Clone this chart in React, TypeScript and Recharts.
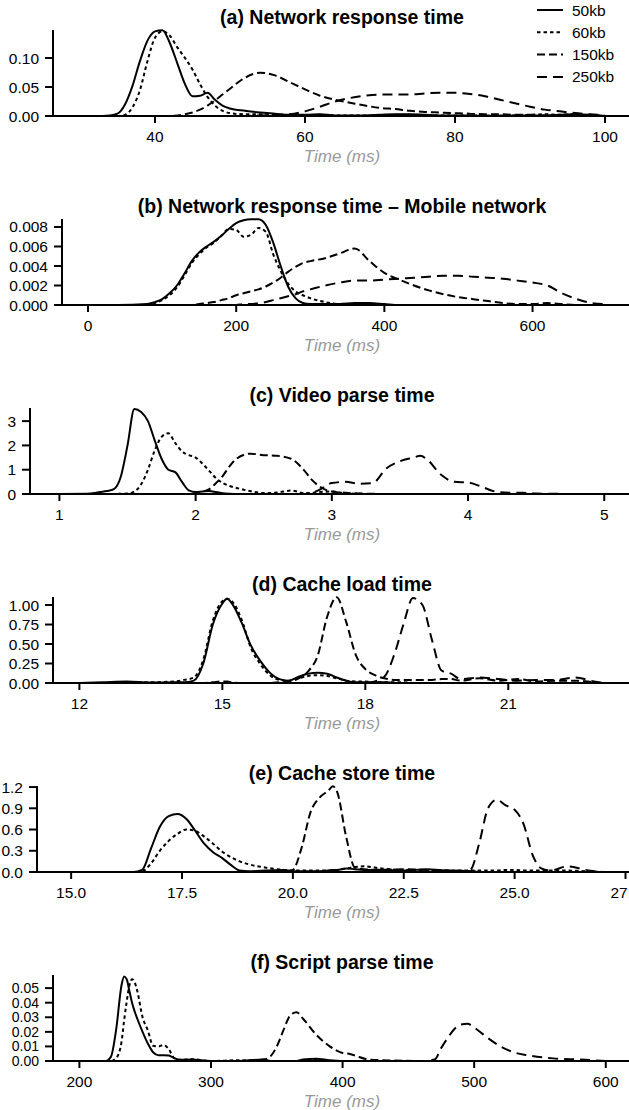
// App.tsx
// Six stacked density plots (a)–(f), one shared legend in the top right.
// Recharts LineCharts, black-on-white, R-style axes.

import { LineChart, Line, XAxis, YAxis, Legend, Label } from "recharts";

// ── Series ────────────────────────────────────────────────────────────────

const SERIES_KEYS = ["s50", "s60", "s150", "s250"];
const SERIES_NAMES = ["50kb", "60kb", "150kb", "250kb"];
const SERIES_DASH = [undefined, "3.5 3", "8 4", "10 6"];

// ── (a) Network response time ────────────────────────────────────────────

const aX = [28, 30, 32, 34, 35, 36, 37, 38, 39, 40, 41, 42, 43, 44, 45, 46, 47, 48, 49, 50,
  52, 54, 56, 58, 60, 62, 64, 66, 68, 70, 72, 74, 76, 78, 80, 82, 84, 86, 88, 90, 92, 94, 96, 98, 100];
const a50 = [0, 0, 0, 0.001, 0.004, 0.02, 0.052, 0.095, 0.13, 0.146, 0.148, 0.125, 0.09, 0.055, 0.034, 0.035, 0.04, 0.028, 0.018, 0.013,
  0.009, 0.006, 0.004, 0.002, 0.002, 0.003, 0.001, 0.001, 0.001, 0.002, 0.003, 0.003, 0.002, 0.001, 0.001, 0.001, 0, 0, 0.001, 0.001, 0.001, 0.002, 0.003, 0.002, 0];
const a60 = [0, 0, 0, 0, 0, 0.002, 0.015, 0.045, 0.095, 0.135, 0.146, 0.138, 0.118, 0.1, 0.08, 0.055, 0.033, 0.018, 0.009, 0.005,
  0.003, 0.003, 0.002, 0.001, 0.001, 0.002, 0.001, 0.001, 0.001, 0.001, 0.002, 0.002, 0.001, 0.001, 0.001, 0.001, 0.001, 0.001, 0.001, 0.002, 0.003, 0.002, 0.003, 0.001, 0];
const a150 = [0, 0, 0, 0, 0, 0, 0, 0, 0, 0, 0, 0, 0.001, 0.003, 0.006, 0.011, 0.018, 0.027, 0.037, 0.047,
  0.066, 0.0745, 0.07, 0.058, 0.046, 0.035, 0.028, 0.023, 0.018, 0.014, 0.012, 0.009, 0.007, 0.006, 0.005, 0.004, 0.003, 0.003, 0.002, 0.002, 0.001, 0.001, 0.001, 0, 0];
const a250 = [0, 0, 0, 0, 0, 0, 0, 0, 0, 0, 0, 0, 0, 0, 0, 0, 0, 0, 0, 0,
  0, 0.001, 0.002, 0.003, 0.008, 0.016, 0.025, 0.031, 0.035, 0.037, 0.037, 0.037, 0.039, 0.04, 0.04, 0.038, 0.034, 0.028, 0.022, 0.016, 0.011, 0.008, 0.005, 0.003, 0.001];
const aXTicks = [40, 60, 80, 100];
const aYTicks = [0, 0.05, 0.1];

// ── (b) Network response time – Mobile network ───────────────────────────

const bX = [0, 40, 80, 90, 100, 110, 120, 130, 140, 150, 160, 170, 180, 190, 200, 210, 220, 230, 240, 250, 260, 270, 280, 290, 300,
  320, 340, 360, 380, 400, 420, 440, 460, 480, 500, 520, 540, 560, 580, 600, 620, 640, 660, 680, 700];
const b50 = [0, 0, 0.0001, 0.0003, 0.0006, 0.0012, 0.002, 0.0032, 0.0045, 0.0054, 0.006, 0.0065, 0.0071, 0.0078, 0.0084, 0.0087, 0.0088, 0.0088, 0.0082, 0.0064, 0.004, 0.0019, 0.0007, 0.0002, 0.0001,
  0.0001, 0.0001, 0.0002, 0.0002, 0.0001, 0, 0, 0, 0, 0, 0, 0, 0, 0, 0, 0, 0, 0, 0, 0];
const b60 = [0, 0, 0, 0.0002, 0.0005, 0.001, 0.0018, 0.003, 0.0043, 0.0052, 0.0059, 0.0064, 0.0071, 0.0078, 0.0077, 0.007, 0.0072, 0.0079, 0.0075, 0.0052, 0.0035, 0.0022, 0.0014, 0.001, 0.0007,
  0.0003, 0.0001, 0.0001, 0.0001, 0, 0, 0, 0, 0, 0, 0, 0, 0, 0, 0, 0, 0, 0, 0, 0];
const b150 = [0, 0, 0, 0, 0, 0, 0, 0, 0, 0.0001, 0.0002, 0.0003, 0.0005, 0.0007, 0.001, 0.0012, 0.0014, 0.0016, 0.0019, 0.0023, 0.0028, 0.0034, 0.0039, 0.0043, 0.0045,
  0.0048, 0.0053, 0.0058, 0.0045, 0.0033, 0.0026, 0.002, 0.0015, 0.0011, 0.0008, 0.0006, 0.0004, 0.0002, 0.0001, 0.0001, 0.0002, 0.0001, 0, 0, 0];
const b250 = [0, 0, 0, 0, 0, 0, 0, 0, 0, 0, 0, 0, 0, 0, 0, 0.0001, 0.0001, 0.0002, 0.0003, 0.0005, 0.0007, 0.0009, 0.0011, 0.0014, 0.0016,
  0.002, 0.0023, 0.0025, 0.0025, 0.0026, 0.0027, 0.0028, 0.0029, 0.003, 0.003, 0.0029, 0.0028, 0.0027, 0.0025, 0.0023, 0.002, 0.0012, 0.0006, 0.0002, 0.0001];
const bXTicks = [0, 200, 400, 600];
const bYTicks = [0, 0.002, 0.004, 0.006, 0.008];

// ── (c) Video parse time ─────────────────────────────────────────────────

const cX = [1.0, 1.2, 1.3, 1.35, 1.4, 1.45, 1.5, 1.55, 1.6, 1.65, 1.7, 1.75, 1.8, 1.85, 1.9, 1.95, 2.0, 2.05, 2.1, 2.15, 2.2, 2.25, 2.3,
  2.4, 2.5, 2.6, 2.7, 2.8, 2.85, 2.9, 3.0, 3.1, 3.2, 3.3, 3.4, 3.5, 3.6, 3.65, 3.7, 3.8, 3.9, 4.0, 4.1, 4.2, 4.3, 4.4, 4.5, 4.6, 4.8, 5.0];
const c50 = [0, 0.01, 0.08, 0.12, 0.2, 0.7, 2.0, 3.5, 3.38, 3.0, 2.2, 1.45, 1.0, 0.9, 0.5, 0.15, 0.08, 0.1, 0.12, 0.08, 0.03, 0.01, 0,
  0, 0, 0, 0, 0, 0, 0, 0, 0, 0, 0, 0, 0, 0, 0, 0, 0, 0, 0, 0, 0, 0, 0, 0, 0, 0, 0];
const c60 = [0, 0, 0, 0, 0, 0.01, 0.02, 0.1, 0.4, 1.0, 1.8, 2.35, 2.5, 2.1, 1.75, 1.6, 1.5, 1.25, 0.95, 0.65, 0.45, 0.33, 0.25,
  0.12, 0.04, 0.06, 0.14, 0.04, 0.05, 0.08, 0.1, 0.03, 0.01, 0, 0, 0, 0, 0, 0, 0, 0, 0, 0, 0, 0, 0, 0, 0, 0, 0];
const c150 = [0, 0, 0, 0, 0, 0, 0, 0, 0, 0, 0, 0, 0, 0, 0, 0, 0.03, 0.1, 0.2, 0.45, 0.75, 1.15, 1.45,
  1.66, 1.6, 1.57, 1.45, 0.95, 0.6, 0.35, 0.1, 0.05, 0.02, 0.01, 0, 0, 0, 0, 0, 0, 0, 0, 0, 0, 0, 0, 0, 0, 0, 0];
const c250 = [0, 0, 0, 0, 0, 0, 0, 0, 0, 0, 0, 0, 0, 0, 0, 0, 0, 0, 0, 0, 0, 0, 0,
  0, 0, 0, 0, 0, 0.05, 0.15, 0.45, 0.5, 0.42, 0.45, 1.05, 1.35, 1.5, 1.57, 1.42, 0.8, 0.5, 0.47, 0.3, 0.1, 0.05, 0.05, 0.02, 0.01, 0, 0];
const cXTicks = [1, 2, 3, 4, 5];
const cYTicks = [0, 1, 2, 3];

// ── (d) Cache load time ──────────────────────────────────────────────────

const dX = [12, 12.5, 13, 13.5, 14, 14.2, 14.4, 14.6, 14.8, 15.0, 15.1, 15.2, 15.4, 15.6, 15.8, 16.0, 16.2, 16.4, 16.6, 16.8, 17.0, 17.2,
  17.4, 17.6, 17.8, 18.0, 18.2, 18.4, 18.6, 18.8, 19.0, 19.2, 19.4, 19.6, 19.8, 20.0, 20.4, 20.8, 21.2, 21.6, 22.0, 22.4, 22.8, 23.0];
const d50 = [0, 0.01, 0.02, 0.005, 0.01, 0.01, 0.03, 0.25, 0.75, 1.02, 1.08, 1.02, 0.78, 0.48, 0.28, 0.13, 0.05, 0.03, 0.08, 0.12, 0.13, 0.12,
  0.07, 0.03, 0.01, 0.01, 0.01, 0.01, 0, 0, 0, 0, 0, 0, 0, 0, 0, 0, 0, 0, 0, 0, 0, 0];
const d60 = [0, 0, 0.01, 0.01, 0.02, 0.04, 0.07, 0.3, 0.8, 1.05, 1.08, 1.05, 0.82, 0.45, 0.24, 0.1, 0.04, 0.03, 0.06, 0.09, 0.1, 0.09,
  0.06, 0.03, 0.02, 0.02, 0.01, 0.01, 0.01, 0.01, 0, 0, 0, 0, 0, 0, 0, 0, 0, 0, 0, 0, 0, 0];
const d150 = [0, 0, 0, 0, 0, 0, 0, 0, 0.01, 0.02, 0.02, 0.01, 0, 0, 0, 0, 0.01, 0.02, 0.06, 0.15, 0.35, 0.85,
  1.1, 0.78, 0.36, 0.18, 0.1, 0.06, 0.04, 0.04, 0.04, 0.04, 0.04, 0.05, 0.05, 0.03, 0.06, 0.03, 0.05, 0.02, 0.03, 0.03, 0.01, 0];
const d250 = [0, 0, 0, 0, 0, 0, 0, 0, 0, 0, 0, 0, 0, 0, 0, 0, 0, 0, 0, 0, 0, 0,
  0, 0, 0, 0, 0.02, 0.08, 0.35, 0.75, 1.09, 1.0, 0.55, 0.16, 0.12, 0.05, 0.07, 0.05, 0.03, 0.04, 0.04, 0.07, 0.02, 0];
const dXTicks = [12, 15, 18, 21];
const dYTicks = [0, 0.25, 0.5, 0.75, 1.0];

// ── (e) Cache store time ─────────────────────────────────────────────────

const eX = [15, 16, 16.4, 16.6, 16.8, 17.0, 17.2, 17.4, 17.6, 17.8, 18.0, 18.2, 18.4, 18.6, 18.8, 19.0, 19.4, 19.8, 20.0, 20.2, 20.4, 20.6,
  20.8, 20.9, 21.0, 21.2, 21.4, 21.6, 22.0, 22.5, 23.0, 23.5, 24.0, 24.2, 24.4, 24.6, 24.8, 25.0, 25.2, 25.4, 25.6, 25.8, 26.2, 26.6, 27.0];
const e50 = [0, 0, 0, 0.03, 0.33, 0.64, 0.79, 0.82, 0.75, 0.58, 0.4, 0.28, 0.2, 0.1, 0.02, 0.01, 0.02, 0.03, 0.01, 0.01, 0.01, 0.01,
  0.02, 0.03, 0.03, 0.05, 0.04, 0.03, 0.03, 0.02, 0.04, 0.02, 0.01, 0, 0, 0, 0, 0, 0, 0, 0, 0, 0, 0, 0];
const e60 = [0, 0, 0, 0.01, 0.12, 0.3, 0.44, 0.54, 0.6, 0.58, 0.5, 0.4, 0.29, 0.21, 0.15, 0.11, 0.06, 0.03, 0.02, 0.02, 0.02, 0.02,
  0.02, 0.02, 0.03, 0.05, 0.07, 0.08, 0.05, 0.03, 0.03, 0.02, 0.02, 0.02, 0.02, 0.02, 0.03, 0.03, 0.02, 0.02, 0.02, 0.02, 0.02, 0.01, 0];
const e150 = [0, 0, 0, 0, 0, 0, 0, 0, 0, 0, 0, 0, 0, 0, 0, 0, 0, 0, 0.03, 0.35, 0.85, 1.05,
  1.15, 1.21, 1.13, 0.5, 0.06, 0.04, 0.03, 0.04, 0.03, 0.02, 0.01, 0, 0, 0, 0, 0, 0, 0, 0, 0, 0, 0, 0];
const e250 = [0, 0, 0, 0, 0, 0, 0, 0, 0, 0, 0, 0, 0, 0, 0, 0, 0, 0, 0, 0, 0, 0,
  0, 0, 0, 0, 0, 0, 0, 0, 0, 0, 0.03, 0.4, 0.9, 1.02, 0.94, 0.88, 0.68, 0.25, 0.05, 0.02, 0.08, 0.03, 0];
const eXTicks = [15, 17.5, 20, 22.5, 25, 27.5];
const eYTicks = [0, 0.3, 0.6, 0.9, 1.2];

// ── (f) Script parse time ────────────────────────────────────────────────

const fX = [200, 215, 220, 224, 228, 232, 234, 236, 238, 240, 242, 244, 248, 252, 256, 260, 264, 268, 272, 276, 285, 300, 320, 340,
  345, 350, 355, 360, 365, 370, 380, 390, 400, 405, 410, 420, 440, 460, 470, 475, 480, 485, 490, 495, 500, 510, 520, 530, 540, 560, 580, 600];
const f50 = [0, 0, 0, 0.003, 0.022, 0.052, 0.058, 0.056, 0.048, 0.04, 0.034, 0.029, 0.02, 0.012, 0.006, 0.004, 0.004, 0.0037, 0.002, 0.0008, 0.001, 0, 0, 0.001,
  0, 0, 0, 0, 0, 0.001, 0.0015, 0.0005, 0, 0, 0, 0, 0, 0, 0, 0, 0, 0, 0, 0, 0, 0, 0, 0, 0, 0, 0, 0];
const f60 = [0, 0, 0, 0, 0.002, 0.013, 0.028, 0.041, 0.052, 0.056, 0.054, 0.048, 0.03, 0.021, 0.0105, 0.01, 0.011, 0.008, 0.002, 0.0008, 0.0012, 0, 0.0005, 0,
  0, 0, 0, 0, 0, 0, 0.001, 0, 0, 0, 0, 0, 0, 0, 0, 0, 0, 0, 0, 0, 0, 0, 0, 0, 0, 0, 0, 0];
const f150 = [0, 0, 0, 0, 0, 0, 0, 0, 0, 0, 0, 0, 0, 0, 0, 0, 0, 0, 0, 0, 0, 0, 0, 0.001,
  0.003, 0.01, 0.021, 0.031, 0.0335, 0.029, 0.018, 0.0102, 0.0055, 0.005, 0.0035, 0.001, 0.0003, 0, 0, 0, 0, 0, 0, 0, 0, 0, 0, 0, 0, 0, 0, 0];
const f250 = [0, 0, 0, 0, 0, 0, 0, 0, 0, 0, 0, 0, 0, 0, 0, 0, 0, 0, 0, 0, 0, 0, 0, 0,
  0, 0, 0, 0, 0, 0, 0, 0, 0, 0, 0, 0, 0, 0, 0.001, 0.009, 0.016, 0.022, 0.025, 0.0255, 0.023, 0.016, 0.01, 0.006, 0.004, 0.0018, 0.001, 0];
const fXTicks = [200, 300, 400, 500, 600];
const fYTicks = [0, 0.01, 0.02, 0.03, 0.04, 0.05];

// ── Layout ──────────────────────────────────────────────────────────────────

const FONT = '"Liberation Sans", Arial, Helvetica, sans-serif';
const CHART_W = 700;
const PANEL_H = 189;
const TITLE_CX = 342;
const AXIS_STROKE = { stroke: "#000", strokeWidth: 2 };
const TICK_STYLE = { fontSize: 15.5, fill: "#000", fontFamily: FONT };

interface PanelCfg {
  title: string;
  xs: number[];
  values: number[][];
  plotLeft: number;
  xDomain: [number, number];
  xTicks: number[];
  xDec: number;
  yTop: number;
  yTicks: number[];
  yDec: number;
  yFont?: number;
}

const PANELS: PanelCfg[] = [
  { title: "(a) Network response time", xs: aX, values: [a50, a60, a150, a250], plotLeft: 53,
    xDomain: [26.4, 112.67], xTicks: aXTicks, xDec: 0, yTop: 0.1483, yTicks: aYTicks, yDec: 2 },
  { title: "(b) Network response time \u2013 Mobile network", xs: bX, values: [b50, b60, b150, b250], plotLeft: 62,
    xDomain: [-35.1, 826], xTicks: bXTicks, xDec: 0, yTop: 0.00882, yTicks: bYTicks, yDec: 3 },
  { title: "(c) Video parse time", xs: cX, values: [c50, c60, c150, c250], plotLeft: 30,
    xDomain: [0.784, 5.703], xTicks: cXTicks, xDec: 0, yTop: 3.54, yTicks: cYTicks, yDec: 0 },
  { title: "(d) Cache load time", xs: dX, values: [d50, d60, d150, d250], plotLeft: 53,
    xDomain: [11.446, 25.024], xTicks: dXTicks, xDec: 0, yTop: 1.103, yTicks: dYTicks, yDec: 2 },
  { title: "(e) Cache store time", xs: eX, values: [e50, e60, e150, e250], plotLeft: 37,
    xDomain: [14.23, 29.18], xTicks: eXTicks, xDec: 1, yTop: 1.215, yTicks: eYTicks, yDec: 1 },
  { title: "(f) Script parse time", xs: fX, values: [f50, f60, f150, f250], plotLeft: 53,
    xDomain: [179.94, 671.6], xTicks: fXTicks, xDec: 0, yTop: 0.059, yTicks: fYTicks, yDec: 2, yFont: 14 },
];

// ── Legend ──────────────────────────────────────────────────────────────────

function LegendBox() {
  return (
    <svg width={100} height={92}>
      {SERIES_NAMES.map((name, i) => {
        const y = 10 + i * 22.3;
        return (
          <g key={name}>
            <line x1={7} x2={33} y1={y} y2={y} stroke="#000" strokeWidth={2} strokeDasharray={SERIES_DASH[i]} />
            <text x={42} y={y} dy="0.36em" fontSize={15.5} fill="#000" fontFamily={FONT}>{name}</text>
          </g>
        );
      })}
    </svg>
  );
}

// ── Panel ───────────────────────────────────────────────────────────────────

function Panel({ cfg, index }: { cfg: PanelCfg; index: number }) {
  const rows = cfg.xs.map((x, i) => {
    const row: Record<string, number> = { x };
    SERIES_KEYS.forEach((k, s) => { row[k] = cfg.values[s][i]; });
    return row;
  });
  const labelDx = TITLE_CX - (cfg.plotLeft + CHART_W) / 2;
  const yTick = cfg.yFont ? { ...TICK_STYLE, fontSize: cfg.yFont } : TICK_STYLE;

  return (
    <div style={{ position: "absolute", left: 0, top: index * PANEL_H, width: CHART_W, height: PANEL_H }}>
      <div style={{
        position: "absolute", left: 0, top: 6, width: TITLE_CX * 2, textAlign: "center",
        fontFamily: FONT, fontWeight: "bold", fontSize: 19.5, lineHeight: "22px", color: "#000", zIndex: 2,
      }}>
        {cfg.title}
      </div>
      <LineChart width={CHART_W} height={PANEL_H} data={rows} margin={{ top: 30, right: 0, bottom: 27, left: 0 }}>
        <XAxis
          dataKey="x" type="number" domain={cfg.xDomain} ticks={cfg.xTicks} interval={0}
          tickFormatter={(v: number) => v.toFixed(cfg.xDec)}
          height={46} tickSize={7} tickMargin={8}
          axisLine={AXIS_STROKE} tickLine={AXIS_STROKE} tick={TICK_STYLE}
        >
          <Label value="Time (ms)" position="insideBottom" offset={0} dx={labelDx}
            fill="#999" fontStyle="italic" fontSize={17} fontFamily={FONT} />
        </XAxis>
        <YAxis
          type="number" domain={[0, cfg.yTop]} ticks={cfg.yTicks} interval={0}
          tickFormatter={(v: number) => v.toFixed(cfg.yDec)}
          width={cfg.plotLeft} tickSize={8} tickMargin={6}
          axisLine={AXIS_STROKE} tickLine={AXIS_STROKE} tick={yTick}
        />
        {index === 0 && (
          <Legend layout="vertical" align="center" verticalAlign="middle"
            content={() => <LegendBox />}
            wrapperStyle={{ top: 0, left: 530, width: 100, height: 92 }} />
        )}
        {SERIES_KEYS.map((k, s) => (
          <Line key={k} dataKey={k} name={SERIES_NAMES[s]} type="monotone" stroke="#000" strokeWidth={2}
            strokeDasharray={SERIES_DASH[s]} dot={false} activeDot={false} isAnimationActive={false} />
        ))}
      </LineChart>
    </div>
  );
}

export default function App() {
  return (
    <div style={{
      position: "absolute", left: 0, top: 0, width: 629, height: 1110,
      overflow: "hidden", background: "#fff", fontFamily: FONT,
    }}>
      {PANELS.map((p, i) => <Panel key={p.title} cfg={p} index={i} />)}
    </div>
  );
}
